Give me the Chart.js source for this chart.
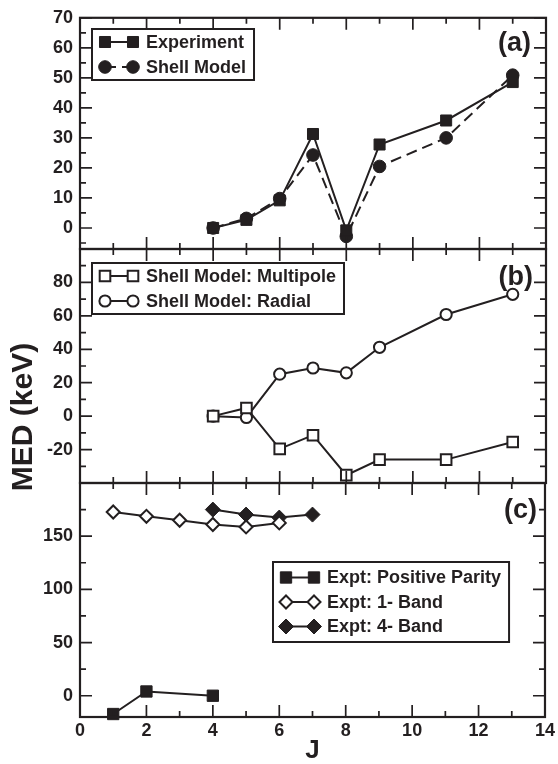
<!DOCTYPE html>
<html>
<head>
<meta charset="utf-8">
<script src="https://cdn.jsdelivr.net/npm/chart.js@4.4.0/dist/chart.umd.min.js"></script>
<style>
  html, body { margin: 0; padding: 0; background: #fff; }
  #wrap { position: relative; width: 558px; height: 764px; }
  #wrap canvas { position: absolute; left: 0; top: 0; }
</style>
</head>
<body>
<div id="wrap">
  <canvas id="chartA" width="558" height="764"></canvas>
  <canvas id="chartB" width="558" height="764"></canvas>
  <canvas id="chartC" width="558" height="764"></canvas>
</div>
<script>
// panel (a): MED in keV vs J
var jA = [4, 5, 6, 7, 8, 9, 11, 13];
var experiment = [0, 2.7, 9.2, 31.3, -0.8, 27.8, 35.8, 48.6];
var shellModel = [0, 3.2, 9.8, 24.3, -2.8, 20.5, 30, 50.9];

// panel (b): shell model split in two parts
var jB = [4, 5, 6, 7, 8, 9, 11, 13];
var multipole = [0, 4.9, -19.6, -11.4, -35.3, -26, -26, -15.5];
var radial = [0, -0.8, 25.1, 28.8, 25.9, 41.2, 60.8, 72.9];

// panel (c): bands from experiment
var jPos = [1, 2, 4];
var positiveParity = [-17.2, 4, 0];
var jBand1 = [1, 2, 3, 4, 5, 6];
var band1 = [172.7, 168.7, 165, 161, 158.7, 162.5];
var jBand4 = [4, 5, 6, 7];
var band4 = [175, 170.3, 167.5, 170.3];

// tick labels
var xTicks = [0, 2, 4, 6, 8, 10, 12, 14];
var yTicksA = [0, 10, 20, 30, 40, 50, 60, 70];
var yTicksB = [-20, 0, 20, 40, 60, 80];
var yTicksC = [0, 50, 100, 150];

var ink = '#231f20';
var fontFamily = "'Liberation Sans', Arial, Helvetica, sans-serif";

function pts(xs, ys) {
    return xs.map(function(x, i) { return { x: x, y: ys[i] }; });
}

function drawMarker(ctx, style, r, x, y) {
    ctx.beginPath();
    if (style === 'circle') {
        ctx.arc(x, y, r, 0, Math.PI * 2);
    } else if (style === 'rect') {
        var s = r * Math.SQRT1_2;
        ctx.rect(x - s, y - s, 2 * s, 2 * s);
    } else {
        ctx.moveTo(x - r, y);
        ctx.lineTo(x, y - r);
        ctx.lineTo(x + r, y);
        ctx.lineTo(x, y + r);
        ctx.closePath();
    }
    ctx.fill();
    ctx.stroke();
}

function isMajor(v, step) {
    return Math.abs(v / step - Math.round(v / step)) < 1e-6;
}

// box round the panel with ticks pointing inwards on all four sides
var framePlugin = {
    id: 'frame',
    afterDatasetsDraw: function(chart, args, opts) {
        var ctx = chart.ctx, a = chart.chartArea;
        var xs = chart.scales.x, ys = chart.scales.y;
        ctx.save();
        ctx.strokeStyle = ink;
        ctx.lineWidth = 1.7;
        ctx.beginPath();
        for (var v = xs.min; v <= xs.max + 1e-9; v += opts.xStep) {
            var len = isMajor(v, opts.xMajor) ? 12 : 6;
            var px = xs.getPixelForValue(v);
            ctx.moveTo(px, a.bottom);
            ctx.lineTo(px, a.bottom - len);
            ctx.moveTo(px, a.top);
            ctx.lineTo(px, a.top + len);
        }
        for (var w = Math.ceil(ys.min / opts.yStep) * opts.yStep; w <= ys.max + 1e-9; w += opts.yStep) {
            var l2 = isMajor(w, opts.yMajor) ? 12 : 6;
            var py = ys.getPixelForValue(w);
            ctx.moveTo(a.left, py);
            ctx.lineTo(a.left + l2, py);
            ctx.moveTo(a.right, py);
            ctx.lineTo(a.right - l2, py);
        }
        ctx.stroke();
        ctx.lineWidth = 2.2;
        ctx.strokeRect(a.left, a.top, a.right - a.left, a.bottom - a.top);

        ctx.fillStyle = ink;
        ctx.font = 'bold 27px ' + fontFamily;
        ctx.textAlign = 'right';
        ctx.textBaseline = 'middle';
        ctx.fillText(opts.tag, opts.tagX, opts.tagY);

        if (opts.sideTitle) {
            ctx.translate(opts.sideX, opts.sideY);
            ctx.rotate(-Math.PI / 2);
            ctx.font = 'bold 30px ' + fontFamily;
            ctx.textAlign = 'center';
            ctx.fillText(opts.sideTitle, 0, 0);
        }
        ctx.restore();
    }
};

// legend in a box: marker - line - marker, then the label
var legendPlugin = {
    id: 'boxLegend',
    afterDraw: function(chart, args, opts) {
        var ctx = chart.ctx, sets = chart.data.datasets;
        ctx.save();
        ctx.font = 'bold 18px ' + fontFamily;
        var textW = 0;
        sets.forEach(function(ds) {
            textW = Math.max(textW, ctx.measureText(ds.label).width);
        });
        var w = 54 + textW + 8;
        var h = opts.pad * 2 + opts.rowGap * (sets.length - 1);
        ctx.fillStyle = '#fff';
        ctx.fillRect(opts.left, opts.top, w, h);
        ctx.strokeStyle = ink;
        ctx.lineWidth = 2;
        ctx.strokeRect(opts.left, opts.top, w, h);
        sets.forEach(function(ds, i) {
            var y = opts.top + opts.pad + i * opts.rowGap;
            var x1 = opts.left + 13, x2 = opts.left + 41;
            ctx.setLineDash(ds.borderDash || []);
            ctx.lineWidth = ds.borderWidth;
            ctx.strokeStyle = ds.borderColor;
            ctx.beginPath();
            ctx.moveTo(x1, y);
            ctx.lineTo(x2, y);
            ctx.stroke();
            ctx.setLineDash([]);
            ctx.fillStyle = ds.pointBackgroundColor;
            ctx.strokeStyle = ds.pointBorderColor;
            ctx.lineWidth = ds.pointBorderWidth;
            drawMarker(ctx, ds.pointStyle, ds.pointRadius, x1, y);
            drawMarker(ctx, ds.pointStyle, ds.pointRadius, x2, y);
            ctx.fillStyle = ink;
            ctx.textAlign = 'left';
            ctx.textBaseline = 'middle';
            ctx.fillText(ds.label, x2 + 13, y + 1);
        });
        ctx.restore();
    }
};

function series(label, xs, ys, style, radius, filled, dash) {
    return {
        label: label,
        data: pts(xs, ys),
        borderColor: ink,
        borderWidth: 2,
        borderDash: dash || [],
        tension: 0,
        clip: false,
        pointStyle: style,
        pointRadius: radius,
        pointBorderColor: ink,
        pointBackgroundColor: filled ? ink : '#fff',
        pointBorderWidth: filled ? 1 : 2
    };
}

function makeChart(id, datasets, cfg) {
    var tickFont = { family: fontFamily, size: 18, weight: 'bold' };
    return new Chart(document.getElementById(id), {
        type: 'line',
        data: { datasets: datasets },
        options: {
            responsive: false,
            animation: false,
            events: [],
            layout: { padding: { left: 0, right: 12, top: cfg.top, bottom: cfg.bottom } },
            scales: {
                x: {
                    type: 'linear',
                    min: 0,
                    max: 14,
                    display: cfg.showX,
                    grid: { display: false, drawTicks: false },
                    border: { display: false },
                    afterBuildTicks: function(s) {
                        s.ticks = xTicks.map(function(v) { return { value: v }; });
                    },
                    afterFit: function(s) {
                        if (cfg.showX) s.height = 47;
                    },
                    ticks: { font: tickFont, color: ink, padding: 3, maxRotation: 0, autoSkip: false },
                    title: {
                        display: cfg.showX,
                        text: 'J',
                        color: ink,
                        font: { family: fontFamily, size: 26, weight: 'bold', lineHeight: 1 },
                        padding: { top: 0, bottom: 0 }
                    }
                },
                y: {
                    type: 'linear',
                    min: cfg.yMin,
                    max: cfg.yMax,
                    grid: { display: false, drawTicks: false },
                    border: { display: false },
                    afterBuildTicks: function(s) {
                        s.ticks = cfg.yTicks.map(function(v) { return { value: v }; });
                    },
                    afterFit: function(s) { s.width = 80; },
                    ticks: { font: tickFont, color: ink, padding: 7, autoSkip: false }
                }
            },
            plugins: {
                legend: { display: false },
                tooltip: { enabled: false },
                frame: cfg.frame,
                boxLegend: cfg.legend
            }
        },
        plugins: [framePlugin, legendPlugin]
    });
}

makeChart('chartA', [
    series('Experiment', jA, experiment, 'rect', 7.8, true),
    series('Shell Model', jA, shellModel, 'circle', 6.3, true, [11, 6])
], {
    top: 15, bottom: 515, showX: false, yMin: -7, yMax: 70, yTicks: yTicksA,
    frame: { xStep: 1, xMajor: 2, yStep: 5, yMajor: 10, tag: '(a)', tagX: 531, tagY: 44 },
    legend: { left: 92, top: 29, pad: 13, rowGap: 25 }
});

makeChart('chartB', [
    series('Shell Model: Multipole', jB, multipole, 'rect', 7.5, false),
    series('Shell Model: Radial', jB, radial, 'circle', 5.6, false)
], {
    top: 249, bottom: 281, showX: false, yMin: -40, yMax: 100, yTicks: yTicksB,
    frame: { xStep: 1, xMajor: 2, yStep: 10, yMajor: 20, tag: '(b)', tagX: 533, tagY: 278,
             sideTitle: 'MED (keV)', sideX: 24, sideY: 417 },
    legend: { left: 92, top: 263, pad: 13, rowGap: 25 }
});

makeChart('chartC', [
    series('Expt: Positive Parity', jPos, positiveParity, 'rect', 8, true),
    series('Expt: 1- Band', jBand1, band1, 'rectRot', 6.5, false),
    series('Expt: 4- Band', jBand4, band4, 'rectRot', 7.5, true)
], {
    top: 483, bottom: 0, showX: true, yMin: -20, yMax: 200, yTicks: yTicksC,
    frame: { xStep: 1, xMajor: 2, yStep: 25, yMajor: 50, tag: '(c)', tagX: 537, tagY: 511 },
    legend: { left: 273, top: 562, pad: 15.5, rowGap: 24.5 }
});
</script>
</body>
</html>
